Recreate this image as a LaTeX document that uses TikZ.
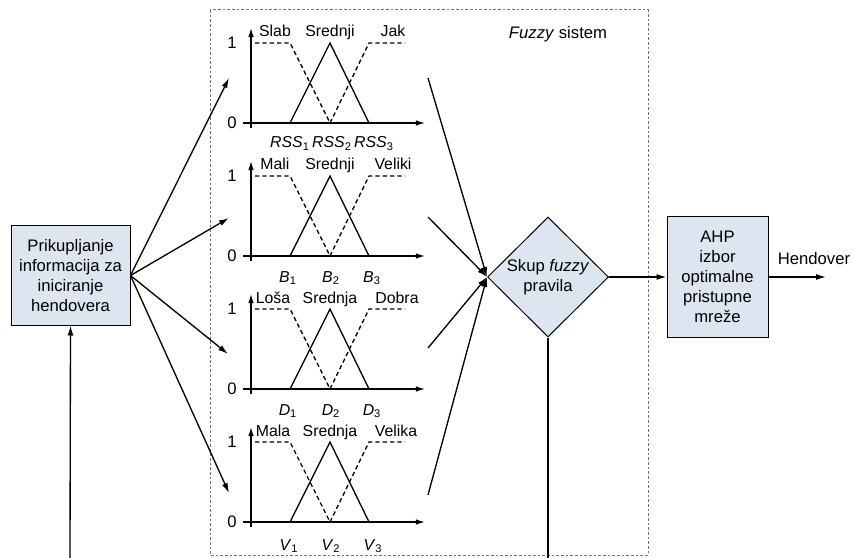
\documentclass[tikz,border=0pt]{standalone}
\usepackage{fontspec}
\setmainfont{Liberation Sans}
\usetikzlibrary{shapes.geometric, arrows.meta}
\definecolor{boxfill}{RGB}{221, 229, 240}
\definecolor{framegray}{RGB}{115, 115, 115}

\begin{document}
\begin{tikzpicture}[x=0.6pt, y=-0.6pt,
    flow/.style={line width=0.8pt, -{Latex[length=6pt,width=3.6pt]}},
    axisline/.style={line width=0.8pt, -{Latex[length=5.5pt,width=3.4pt]}},
    mfline/.style={line width=0.8pt},
    mfdash/.style={line width=0.8pt, dash pattern=on 2.6pt off 1.8pt},
    block/.style={draw, line width=0.6pt, fill=boxfill, align=center, inner sep=0pt},
    mflabel/.style={font=\fontsize{9.5}{11}\selectfont, inner sep=0pt, anchor=base},
    numlabel/.style={font=\fontsize{10}{12}\selectfont, inner sep=1pt},
    idxlabel/.style={font=\fontsize{9.5}{11}\selectfont, inner sep=0pt, anchor=base}]
\useasboundingbox (0,0) rectangle (853,558);

% Fuzzy system frame
\draw[framegray, line width=0.6pt, dash pattern=on 1.6pt off 1.2pt] (210,10) rectangle (648,555);
\node (fstitle) at (558,34) {\textit{Fuzzy} sistem};

% Blocks
\node[block, minimum width=71.4pt, minimum height=59.4pt] (prik) at (70.5,275.5)
    {Prikupljanje\\informacija za\\iniciranje\\hendovera};
\node[block, diamond, minimum width=72.6pt, minimum height=72pt] (rules) at (548,277)
    {Skup \textit{fuzzy}\\pravila};
\node[block, minimum width=60.6pt, minimum height=72pt] (ahp) at (717.5,277)
    {AHP\\izbor\\optimalne\\pristupne\\mre\v{z}e};
\node (hend) at (814,259) {Hendover};

% Chart 1: RSS
\begin{scope}[shift={(251,123)}]
    \draw[axisline] (-8,0) -- (174,0);
    \draw[axisline] (0,5) -- (0,-95);
    \node[numlabel] (c1one) at (-19,-80) {1};
    \node[numlabel] (c1zero) at (-19,0) {0};
    \draw[mfdash] (4,-80) -- (39,-80) -- (79,0);
    \draw[mfline] (39,0) -- (79,-80) -- (118,0);
    \draw[mfdash] (79,0) -- (118,-80) -- (154,-80);
    \node[mflabel] (c1a) at (24,-86) {Slab};
    \node[mflabel] (c1b) at (79,-86) {Srednji};
    \node[mflabel] (c1c) at (142,-86) {Jak};
    \node[idxlabel] (c1x1) at (39,25) {\textit{RSS}\textsubscript{1}};
    \node[idxlabel] (c1x2) at (81,25) {\textit{RSS}\textsubscript{2}};
    \node[idxlabel] (c1x3) at (123,25) {\textit{RSS}\textsubscript{3}};
\end{scope}

% Chart 2: B
\begin{scope}[shift={(251,256)}]
    \draw[axisline] (-8,0) -- (174,0);
    \draw[axisline] (0,5) -- (0,-95);
    \node[numlabel] (c2one) at (-19,-80) {1};
    \node[numlabel] (c2zero) at (-19,0) {0};
    \draw[mfdash] (4,-80) -- (39,-80) -- (79,0);
    \draw[mfline] (39,0) -- (79,-80) -- (118,0);
    \draw[mfdash] (79,0) -- (118,-80) -- (154,-80);
    \node[mflabel] (c2a) at (24,-86) {Mali};
    \node[mflabel] (c2b) at (79,-86) {Srednji};
    \node[mflabel] (c2c) at (142,-86) {Veliki};
    \node[idxlabel] (c2x1) at (37,26) {\textit{B}\textsubscript{1}};
    \node[idxlabel] (c2x2) at (80,26) {\textit{B}\textsubscript{2}};
    \node[idxlabel] (c2x3) at (121,26) {\textit{B}\textsubscript{3}};
\end{scope}

% Chart 3: D
\begin{scope}[shift={(251,389)}]
    \draw[axisline] (-8,0) -- (174,0);
    \draw[axisline] (0,5) -- (0,-95);
    \node[numlabel] (c3one) at (-19,-80) {1};
    \node[numlabel] (c3zero) at (-19,0) {0};
    \draw[mfdash] (4,-80) -- (39,-80) -- (79,0);
    \draw[mfline] (39,0) -- (79,-80) -- (118,0);
    \draw[mfdash] (79,0) -- (118,-80) -- (154,-80);
    \node[mflabel] (c3a) at (22,-86) {Lo\v{s}a};
    \node[mflabel] (c3b) at (79,-86) {Srednja};
    \node[mflabel] (c3c) at (146,-86) {Dobra};
    \node[idxlabel] (c3x1) at (37,26) {\textit{D}\textsubscript{1}};
    \node[idxlabel] (c3x2) at (80,26) {\textit{D}\textsubscript{2}};
    \node[idxlabel] (c3x3) at (121,26) {\textit{D}\textsubscript{3}};
\end{scope}

% Chart 4: V
\begin{scope}[shift={(251,522)}]
    \draw[axisline] (-8,0) -- (174,0);
    \draw[axisline] (0,5) -- (0,-95);
    \node[numlabel] (c4one) at (-19,-80) {1};
    \node[numlabel] (c4zero) at (-19,0) {0};
    \draw[mfdash] (4,-80) -- (39,-80) -- (79,0);
    \draw[mfline] (39,0) -- (79,-80) -- (118,0);
    \draw[mfdash] (79,0) -- (118,-80) -- (154,-80);
    \node[mflabel] (c4a) at (22,-86) {Mala};
    \node[mflabel] (c4b) at (79,-86) {Srednja};
    \node[mflabel] (c4c) at (145,-86) {Velika};
    \node[idxlabel] (c4x1) at (38,28) {\textit{V}\textsubscript{1}};
    \node[idxlabel] (c4x2) at (80,28) {\textit{V}\textsubscript{2}};
    \node[idxlabel] (c4x3) at (122,28) {\textit{V}\textsubscript{3}};
\end{scope}

% Ends of the connectors
\coordinate (in1) at (229,78);
\coordinate (in2) at (229,218);
\coordinate (in3) at (228,354);
\coordinate (in4) at (229,493);
\coordinate (out1) at (428,78);
\coordinate (out2) at (428,217);
\coordinate (out3) at (428,348);
\coordinate (out4) at (428,495);
\coordinate (hout) at (826,277);
\coordinate (fbleft) at (70,558);
\coordinate (fbright) at (548,558);

% Inputs to the membership functions
\draw[flow] (prik.east) -- (in1);
\draw[flow] (prik.east) -- (in2);
\draw[flow] (prik.east) -- (in3);
\draw[flow] (prik.east) -- (in4);

% Into the rule base
\draw[flow] (out1) -- (rules.west);
\draw[flow] (out2) -- (rules.west);
\draw[flow] (out3) -- (rules.west);
\draw[flow] (out4) -- (rules.west);

% Decision and feedback
\draw[flow] (rules.east) -- (ahp.west);
\draw[flow] (ahp.east) -- (hout);
\draw[mfline] (rules.south) -- (fbright);
\draw[flow] (fbleft) -- (prik.south);
\end{tikzpicture}
\end{document}
